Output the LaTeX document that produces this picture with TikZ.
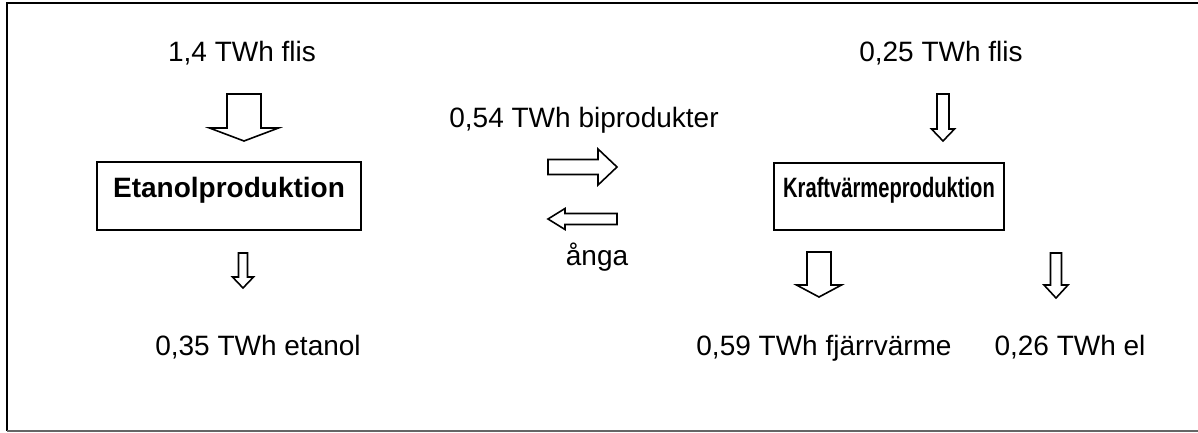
\documentclass[tikz,border=0pt]{standalone}
\usepackage{fontspec}
\setmainfont{Liberation Sans}
\usetikzlibrary{positioning}

% block arrows: centre, half shaft, tail, head base, half head, tip
\newcommand{\downblk}[6]{\draw[blk] ({#1-#2},#3) -- ({#1+#2},#3) -- ({#1+#2},#4) -- ({#1+#5},#4) -- (#1,#6) -- ({#1-#5},#4) -- ({#1-#2},#4) -- cycle;}
\newcommand{\sideblk}[6]{\draw[blk] (#3,{#1-#2}) -- (#4,{#1-#2}) -- (#4,{#1-#5}) -- (#6,#1) -- (#4,{#1+#5}) -- (#4,{#1+#2}) -- (#3,{#1+#2}) -- cycle;}

\begin{document}
\begin{tikzpicture}[
  x=1pt, y=-1pt,
  lbl/.style={font=\fontsize{28}{32}\selectfont, anchor=base, inner sep=0pt},
  box/.style={draw, line width=1.6pt, font=\fontsize{28}{32}\selectfont\bfseries,
    text height=20pt, text depth=18pt},
  blk/.style={draw, line width=1.6pt, line join=miter, fill=white}
]
  \useasboundingbox (0,0) rectangle (1198,433);
  \draw[line width=1.8pt] (1198,3) -- (7,3) -- (7,431);
  \draw[line width=1.4pt, black!60] (7,431) -- (1198,431);

  % processes
  \node[box, minimum width=264pt, minimum height=68pt] (etanol) at (229,196) {Etanolproduktion};
  \node[box, minimum width=230pt, minimum height=67pt] (kvp) at (889,196.5) {\scalebox{0.72}[1]{Kraftvärmeproduktion}};

  % flows
  \node[lbl] (flisA) at (242,62) {1,4 TWh flis};
  \node[lbl] (flisB) at (941,62) {0,25 TWh flis};
  \node[lbl] (bipr) at (584,128) {0,54 TWh biprodukter};
  \node[lbl] (anga) at (597,265) {ånga};
  \node[lbl] (etoh) at (258,355) {0,35 TWh etanol};
  \node[lbl] (fjv) at (824,355) {0,59 TWh fjärrvärme};
  \node[lbl] (el) at (1070,355) {0,26 TWh el};

  \downblk{244}{17}{94}{128}{34.5}{141}
  \downblk{943}{6}{94}{129}{11.5}{141}
  \downblk{243}{4.5}{253}{277}{10.5}{288}
  \downblk{819}{12}{252}{285}{22.5}{297}
  \downblk{1056}{5.5}{253}{285}{12}{298}
  \sideblk{167}{7.5}{548}{598}{18}{617}
  \sideblk{219}{5.5}{617}{565}{10.5}{548}
\end{tikzpicture}
\end{document}
